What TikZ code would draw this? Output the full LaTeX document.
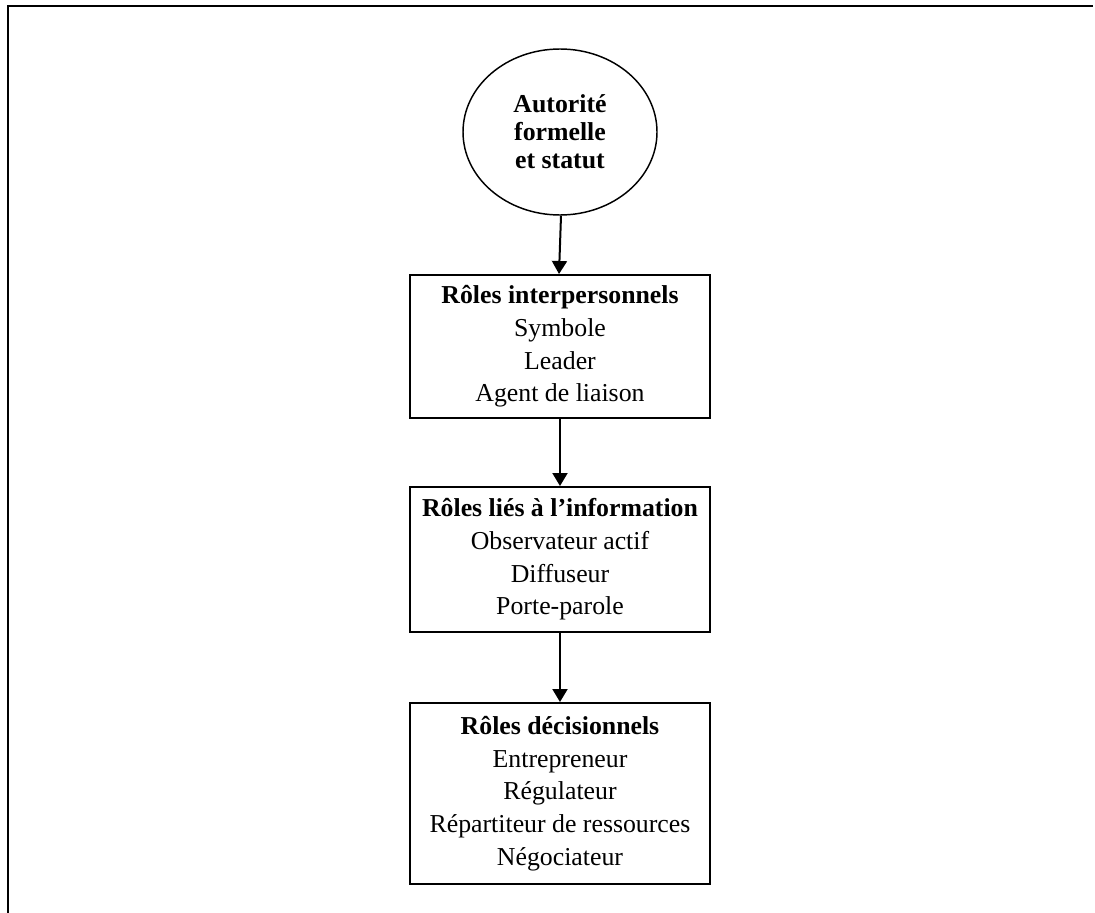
\documentclass[tikz,border=0pt]{standalone}
\usepackage{fontspec}
\setmainfont{Liberation Serif}
\usetikzlibrary{arrows.meta,shapes.geometric}
\begin{document}
\begin{tikzpicture}[x=0.75pt,y=-0.75pt,
  rolebox/.style={draw, line width=1.5pt, minimum width=225pt, inner sep=0pt, align=center,
    font=\fontsize{19.35}{24.5}\selectfont},
  topell/.style={draw, ellipse, line width=1.1pt, minimum width=145.5pt, minimum height=124.5pt,
    inner sep=0pt, align=center, font=\fontsize{19.35}{21}\selectfont\bfseries},
  arr/.style={line width=1.5pt, -{Triangle[width=11.25pt,length=9.75pt]}}]
\useasboundingbox (0,0) rectangle (1095,913);
\coordinate (fbl) at (8,913);
\coordinate (ftl) at (8,6);
\coordinate (ftr) at (1093,6);
\draw[line width=1.6pt] (fbl) -- (ftl) -- (ftr);
\node[topell] (aut) at (560,132) {Autorité\\formelle\\et statut};
\node[rolebox, minimum height=107.25pt] (b1) at (560,346.5)
  {\textbf{Rôles interpersonnels}\\Symbole\\Leader\\Agent de liaison};
\node[rolebox, minimum height=108.75pt] (b2) at (560,559.5)
  {\textbf{Rôles liés à l’information}\\Observateur actif\\Diffuseur\\Porte-parole};
\node[rolebox, minimum height=135.75pt] (b3) at (560,793.5)
  {\textbf{Rôles décisionnels}\\Entrepreneur\\Régulateur\\Répartiteur de ressources\\Négociateur};
\draw[arr] ([xshift=0.75pt]aut.south) -- ([xshift=-0.75pt]b1.north);
\draw[arr] (b1.south) -- (b2.north);
\draw[arr] (b2.south) -- (b3.north);
\end{tikzpicture}
\end{document}
